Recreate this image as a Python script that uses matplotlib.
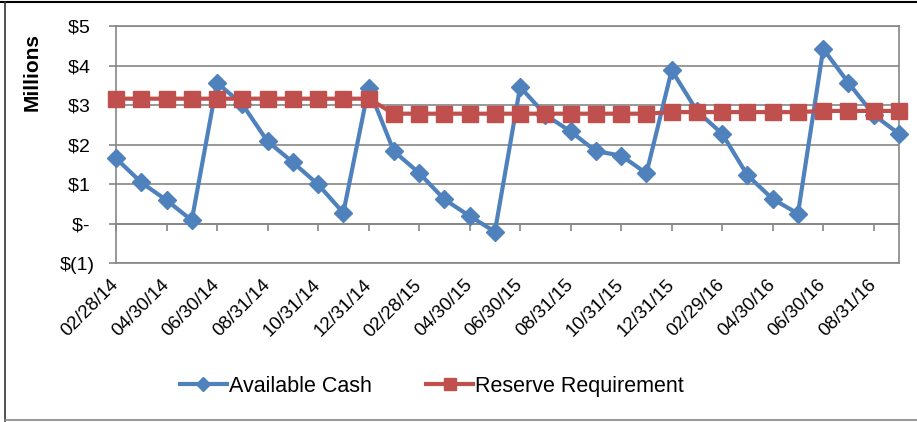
import numpy as np
import matplotlib.pyplot as plt
from matplotlib.lines import Line2D

plt.rcParams['font.family'] = ['Liberation Sans', 'DejaVu Sans']

# month-end dates, Feb 2014 .. Sep 2016
DATES = ['02/28/14', '03/31/14', '04/30/14', '05/31/14', '06/30/14', '07/31/14',
         '08/31/14', '09/30/14', '10/31/14', '11/30/14', '12/31/14',
         '01/31/15', '02/28/15', '03/31/15', '04/30/15', '05/31/15', '06/30/15',
         '07/31/15', '08/31/15', '09/30/15', '10/31/15', '11/30/15', '12/31/15',
         '01/31/16', '02/29/16', '03/31/16', '04/30/16', '05/31/16', '06/30/16',
         '07/31/16', '08/31/16', '09/30/16']

# $ millions
CASH = [1.65, 1.04, 0.59, 0.08, 3.56, 3.02, 2.08, 1.55, 0.99, 0.27, 3.43,
        1.83, 1.28, 0.61, 0.19, -0.21, 3.46, 2.75, 2.33, 1.83, 1.72, 1.27, 3.88,
        2.85, 2.27, 1.22, 0.62, 0.25, 4.42, 3.56, 2.75, 2.27]
RESERVE = [3.16, 3.16, 3.16, 3.16, 3.16, 3.16, 3.16, 3.16, 3.16, 3.16, 3.16,
           2.78, 2.78, 2.78, 2.78, 2.78, 2.78, 2.78, 2.78, 2.78, 2.78, 2.78,
           2.82, 2.82, 2.82, 2.82, 2.82, 2.82, 2.85, 2.85, 2.85, 2.85]

Y_TICKS = [-1, 0, 1, 2, 3, 4, 5]
Y_LABELS = ['$(1)', '$- ', '$1 ', '$2 ', '$3 ', '$4 ', '$5 ']

BLUE = '#4F81BD'
RED = '#C0504D'
GRID = '#868686'

fig = plt.figure(figsize=(9.17, 4.22), dpi=100)
ax = fig.add_axes([116 / 917, 1 - 263 / 422, (899 - 116) / 917, (263 - 26) / 422])

x = np.arange(len(DATES))
ax.plot(x, CASH, color=BLUE, lw=3, marker='D', ms=9.5, label='Available Cash',
        zorder=3, clip_on=False)
ax.plot(x, RESERVE, color=RED, lw=3, marker='s', ms=11, label='Reserve Requirement',
        zorder=4, clip_on=False)

ax.set_xlim(0, len(DATES) - 1)
ax.set_ylim(-1, 5)
ax.set_yticks(Y_TICKS)
ax.set_yticklabels(Y_LABELS, fontsize=14)
ax.yaxis.grid(True, color=GRID, lw=1.2)
ax.set_axisbelow(True)
for s in ax.spines.values():
    s.set_color(GRID)
    s.set_linewidth(1.2)
ax.tick_params(axis='y', length=5, color=GRID, width=1.2, pad=10)

ax.set_xticks(x[::2])
ax.set_xticklabels(DATES[::2], rotation=45, ha='right', va='center',
                   rotation_mode='anchor', fontsize=13.5)
ax.tick_params(axis='x', length=0, pad=14)

# horizontal axis crosses at $0, tick marks sit there
sec = ax.secondary_xaxis(1 / 6)
sec.set_xticks(x[::2])
sec.tick_params(axis='x', length=5, color=GRID, width=1.2, labelbottom=False, labeltop=False)
for s in sec.spines.values():
    s.set_color(GRID)
    s.set_linewidth(1.2)

fig.text(32 / 917, 1 - 72 / 422, 'Millions', rotation=90, ha='center', va='center',
         fontsize=15, fontweight='bold')

fig.legend(loc='center', bbox_to_anchor=(0.471, 0.085), ncol=2, frameon=False,
           fontsize=15.5, handlelength=2.2, columnspacing=2.5, handletextpad=0.1,
           markerscale=0.8)

# outer frame
fig.add_artist(Line2D([0, 1], [0.995, 0.995], transform=fig.transFigure, color='black', lw=1.5))
fig.add_artist(Line2D([0.005, 0.005], [0.003, 0.995], transform=fig.transFigure, color='#333333', lw=1.2))
fig.add_artist(Line2D([0.005, 1], [0.004, 0.004], transform=fig.transFigure, color=GRID, lw=1.2))

fig.savefig('out.png', dpi=100)
